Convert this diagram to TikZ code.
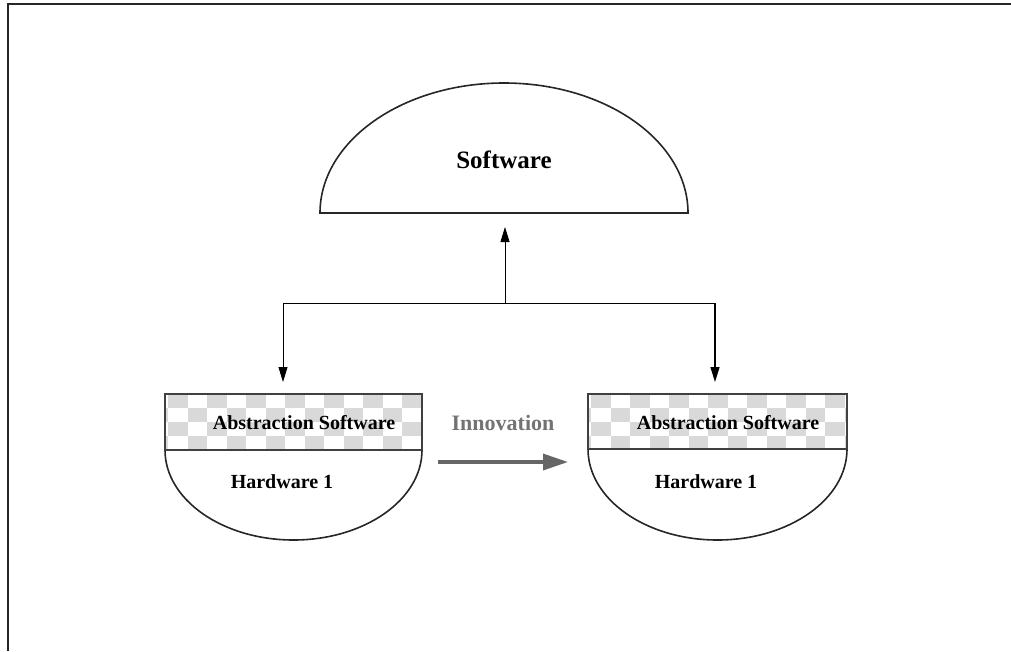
\documentclass[tikz,border=0pt]{standalone}
\usepackage{fontspec}
\setmainfont{Liberation Serif}
\usetikzlibrary{arrows.meta}
\begin{document}
\begin{tikzpicture}[x=1pt,y=-1pt,
  shapeline/.style={draw=black!85, line width=1.6pt},
  lbl/.style={font=\bfseries\fontsize{20}{24}\selectfont, inner sep=0pt},
  cell/.style={fill=black!15},
  conn/.style={line width=0.9pt, -{Triangle[length=15pt,width=9pt]}},
  bandline/.style={draw=black!75, line width=1.4pt}]
\useasboundingbox (0,0) rectangle (1011,651);
% frame
\draw[line width=2.2pt, black!85] (8,651) -- (8,4) -- (1011,4);

% top dome
\draw[shapeline] (320,213) arc[start angle=180, end angle=0, x radius=184pt, y radius=130pt] -- cycle;
\node[font=\bfseries\fontsize{25}{30}\selectfont, inner sep=0pt] (sw) at (504,160) {Software};
\coordinate (swb) at (505,213);

% left bowl
\draw[shapeline] (165,450) arc[start angle=180, end angle=360, x radius=128.5pt, y radius=90pt];
\begin{scope}
\clip (165,394) rectangle (422,450);
\foreach \r in {0,...,3} \foreach \c in {-1,...,7} {
  \fill[cell] ({168+39*\c+mod(\r,2)*19.5}, {394+14*\r}) rectangle ++(19.5,14);
}
\end{scope}
\draw[bandline] (165,394) rectangle (422,450);
\node[lbl] (abs1) at (304,423) {Abstraction Software};
\node[lbl] (hw1) at (282,482) {Hardware 1};
\coordinate (b1) at (283,394);

% right bowl
\draw[shapeline] (588,449) arc[start angle=180, end angle=360, x radius=129.5pt, y radius=91pt];
\begin{scope}
\clip (588,394) rectangle (847,449);
\foreach \r in {0,...,3} \foreach \c in {-1,...,7} {
  \fill[cell] ({591+39*\c+mod(\r,2)*19.5}, {394+14*\r}) rectangle ++(19.5,14);
}
\end{scope}
\draw[bandline] (588,394) rectangle (847,449);
\node[lbl] (abs2) at (728,423) {Abstraction Software};
\node[lbl] (hw2) at (706,482) {Hardware 1};
\coordinate (b2) at (715,394);

% connectors
\coordinate (j) at (505,303);
\coordinate (jl) at (283,303);
\coordinate (jr) at (715,303);
\draw[line width=0.9pt] (jl) -- (jr);
\draw[conn, shorten >=14pt] (j) -- (swb);
\draw[conn, shorten >=12pt] (jl) -- (b1);
\draw[conn, line width=1.4pt, shorten >=12pt] (jr) -- (b2);

% innovation
\node[font=\bfseries\fontsize{22}{26}\selectfont, text=black!55, inner sep=0pt] (innov) at (503,423) {Innovation};
\coordinate (ia) at (438,462);
\coordinate (ib) at (568,462);
\draw[black!60, line width=3.5pt, -{Triangle[length=25pt,width=16pt]}] (ia) -- (ib);
\end{tikzpicture}
\end{document}
